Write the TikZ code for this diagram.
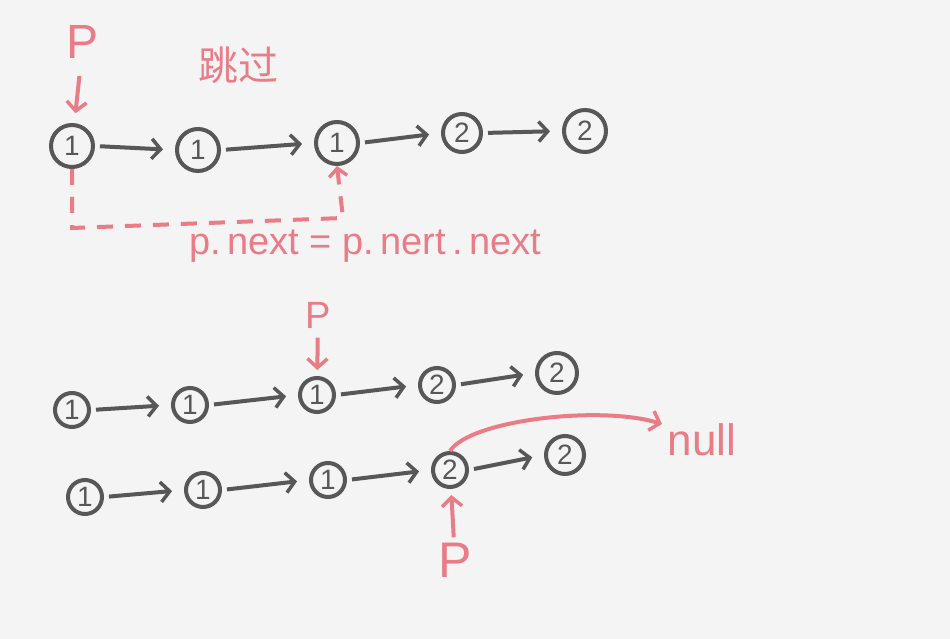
\documentclass[tikz,border=0pt]{standalone}
\usepackage{fontspec}
\setmainfont{Liberation Sans}
\newfontfamily\cjk{Noto Sans CJK SC}
\usetikzlibrary{arrows.meta}
\definecolor{paper}{HTML}{F4F4F4}
\definecolor{ink}{HTML}{575757}
\definecolor{pen}{HTML}{E97C86}
\tikzset{
  nd/.style={circle, draw=ink, line width=4pt, inner sep=0pt, minimum size=#1pt, text=ink, font=\fontsize{28}{30}\selectfont},
  nd/.default=40,
  lnk/.style={draw=ink, line width=4pt, shorten <=5pt, shorten >=12pt, -{Straight Barb[length=9pt,width=20pt,line width=3.5pt]}},
  rlnk/.style={draw=pen, line width=4pt, -{Straight Barb[length=9pt,width=20pt,line width=3.5pt]}},
  rtxt/.style={text=pen, font=\fontsize{#1}{#1}\selectfont},
  rtxt/.default=36,
}
\begin{document}
\begin{tikzpicture}[x=1pt,y=-1pt]
\fill[paper] (0,0) rectangle (950,639);
\useasboundingbox (0,0) rectangle (950,639);
% row 1
\node[nd=42] (a1) at (72,146) {1};
\node[nd=42] (a2) at (198,150) {1};
\node[nd=42] (a3) at (337,143) {1};
\node[nd=38] (a4) at (462,133) {2};
\node[nd=42] (a5) at (585,131) {2};
\draw[lnk] (a1.east) -- (a2.west);
\draw[lnk] (a2.east) -- (a3.west);
\draw[lnk] (a3.east) -- (a4.west);
\draw[lnk] (a4.east) -- (a5.west);
\node[rtxt=48] (p1) at (83,42) {P};
\draw[rlnk, shorten <=14pt, shorten >=10pt] (p1) -- (a1);
\node[text=pen, font=\cjk\fontsize{40}{40}\selectfont] (skip) at (238,65) {跳过};
\coordinate (d1) at (72,228);
\coordinate (d2) at (343,218);
\draw[pen, line width=4pt, dash pattern=on 16pt off 12pt, -{Straight Barb[length=8pt,width=18pt,line width=3.5pt]}] (a1.south) -- (d1) -- (d2) -- (a3.south);
\node[rtxt=38] (eq) at (365,246) {p.\,next = p.\,nert\,.\,next};
% row 2
\node[nd=34] (b1) at (72,410) {1};
\node[nd=34] (b2) at (190,405) {1};
\node[nd=34] (b3) at (317,395) {1};
\node[nd=34] (b4) at (437,385) {2};
\node[nd=40] (b5) at (557,373) {2};
\draw[lnk] (b1.east) -- (b2.west);
\draw[lnk] (b2.east) -- (b3.west);
\draw[lnk] (b3.east) -- (b4.west);
\draw[lnk] (b4.east) -- (b5.west);
\node[rtxt=38] (p2) at (318,315) {P};
\draw[rlnk, shorten <=6pt, shorten >=6pt] (p2) -- (b3);
% row 3
\node[nd=34] (c1) at (85,497) {1};
\node[nd=34] (c2) at (203,490) {1};
\node[nd=34] (c3) at (328,480) {1};
\node[nd=34] (c4) at (450,470) {2};
\node[nd=38] (c5) at (565,455) {2};
\draw[lnk] (c1.east) -- (c2.west);
\draw[lnk] (c2.east) -- (c3.west);
\draw[lnk] (c3.east) -- (c4.west);
\draw[lnk] (c4.east) -- (c5.west);
\node[rtxt=44] (nul) at (702,440) {null};
\coordinate (ne) at (662,424);
\draw[rlnk] (c4.north) .. controls (470,420) and (600,405) .. (ne);
\node[rtxt=50] (p3) at (455,560) {P};
\draw[rlnk, shorten <=2pt, shorten >=6pt] (p3) -- (c4);
\end{tikzpicture}
\end{document}
